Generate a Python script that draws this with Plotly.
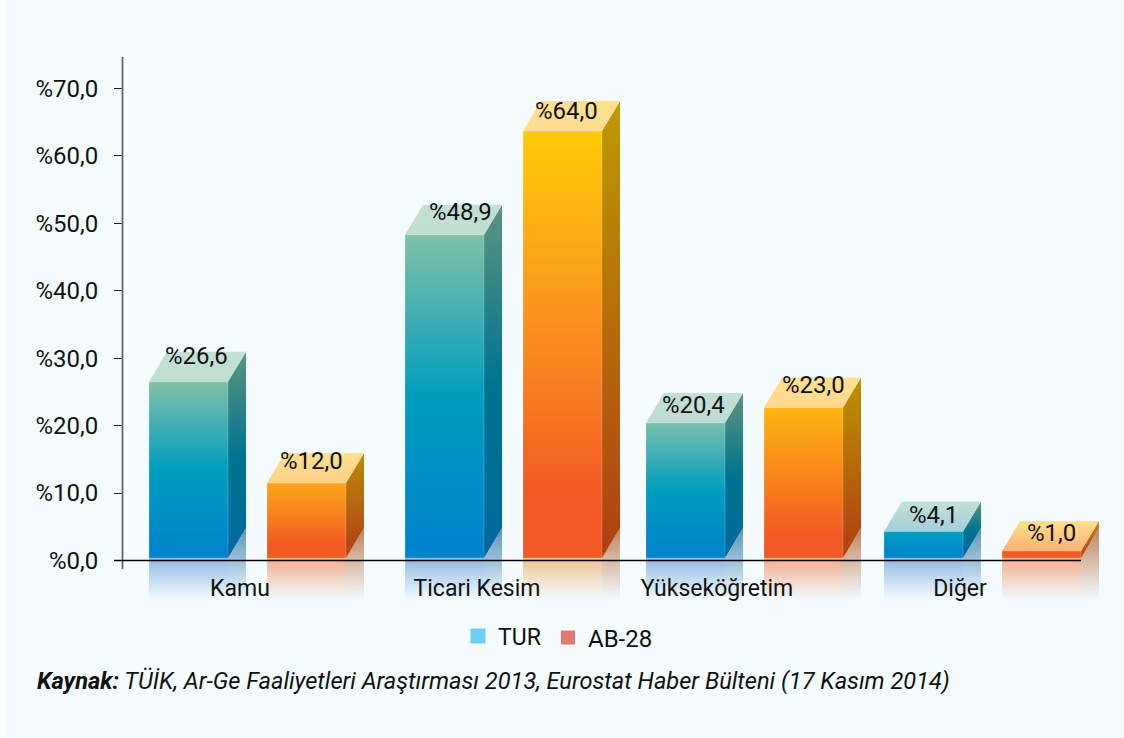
import plotly.graph_objects as go

# ---- data ----
categories = ["Kamu", "Ticari Kesim", "Yükseköğretim", "Diğer"]
series_names = ["TUR", "AB-28"]
# bar heights
tur_values = [26.5, 48.3, 20.4, 4.3]
ab_values = [11.5, 63.7, 22.7, 1.4]
# printed labels
tur_labels = ["%26,6", "%48,9", "%20,4", "%4,1"]
ab_labels = ["%12,0", "%64,0", "%23,0", "%1,0"]
y_ticks = [0, 10, 20, 30, 40, 50, 60, 70]
y_tick_labels = ["%0,0", "%10,0", "%20,0", "%30,0", "%40,0", "%50,0", "%60,0", "%70,0"]
source_bold = "Kaynak:"
source_rest = " TÜİK, Ar-Ge Faaliyetleri Araştırması 2013, Eurostat Haber Bülteni (17 Kasım 2014)"

# ---- geometry (x axis unit = 1 px, origin at the y axis) ----
W, H = 1124, 738
L, R, T, B = 123, 1110, 57, 605
AXIS_BOTTOM = 569
ZERO_END = 1081
PX = 6.743                       # px per y unit
Y0_PX = 560.5
BAR_W = 79
DX = 18
DY = 30 / PX
BASE = 2.5 / PX
REFL = -(600 - Y0_PX) / PX
tur_left = [26, 282, 523, 761]
ab_left = [144, 400, 641, 879]
cat_tick = [117, 354, 594, 837]
tur_lab = [(7.5, 25.5), (15.5, 23), (7.5, 18), (10, 17)]
ab_lab = [(5, 22), (4, 20), (9.5, 22), (10, 18)]

FONT = "Roboto"
FS = 24
BG = "#F4FCFF"
INK = "#111111"

TUR_FRONT = ["#0082CE", "#009DBE", "#80C1A8"]
TUR_SIDE = ["#00689F", "#00748F", "#5E9480"]
TUR_TOP_BACK = "#C3E0D4"
TUR_TOP_FRONT = ["#C0DDD2", "#C0DDD2", "#BEDCD4", "#A3CEDC"]
TUR_FRONT_TOP = ["#80C1A8", "#80C1A8", "#78BFAC", "#009DBE"]
AB_FRONT_TOP = ["#FBA61A", "#FFCB05", "#FFB612", "#F15A22"]
AB_SIDE_TOP = ["#BC8A0A", "#BC9A00", "#BD9200", "#C08A10"]
AB_TOP_BACK = "#FFE090"
AB_TOP_FRONT = ["#FDD08A", "#FFDD90", "#FFD88E", "#FFAF72"]
AB_REFL = ["240,140,90", "235,170,100", "240,140,90", "240,140,90"]


def poly(fig, xs, ys, stops, lo, hi, edge="rgba(255,255,255,0)"):
    fig.add_trace(go.Scatter(
        x=xs + xs[:1], y=ys + ys[:1], mode="lines", fill="toself",
        line=dict(width=0.8, color=edge),
        fillgradient=dict(type="vertical", colorscale=stops, start=lo, stop=hi),
        hoverinfo="skip", showlegend=False))


def fade(rgb, alpha):
    return [[0, f"rgba({rgb},0)"], [1, f"rgba({rgb},{alpha})"]]


def bar3d(fig, left, v, front, side, top_back, top_front, refl_front, refl_side):
    x0, x1, x2 = left, left + BAR_W, left + BAR_W + DX
    poly(fig, [x0, x1, x1, x0], [BASE, BASE, REFL, REFL], fade(*refl_front), REFL, BASE)
    poly(fig, [x1, x2, x2, x1], [BASE, BASE + DY, REFL, REFL], fade(*refl_side), REFL, BASE + DY)
    poly(fig, [x1, x2, x2, x1], [BASE, BASE + DY, v + DY, v], side, BASE, v + DY)
    poly(fig, [x0, x1, x2, x0 + DX], [v, v, v + DY, v + DY],
         [[0, top_front], [1, top_back]], v, v + DY)
    poly(fig, [x0, x1, x1, x0], [BASE, BASE, v, v], front, BASE, v, edge="rgba(255,255,255,0.25)")


fig = go.Figure()
ann = []
for i in range(len(categories)):
    v = tur_values[i]
    if v < 5:
        front = [[0, TUR_FRONT[0]], [1, TUR_FRONT[1]]]
    else:
        front = [[0, TUR_FRONT[0]], [0.5, TUR_FRONT[1]], [1, TUR_FRONT_TOP[i]]]
    side = [[0, TUR_SIDE[0]], [0.5, TUR_SIDE[1]], [1, TUR_SIDE[2]]]
    bar3d(fig, tur_left[i], v, front, side, TUR_TOP_BACK, TUR_TOP_FRONT[i],
          ("90,150,210", 0.65), ("50,120,170", 0.8))
    v2 = ab_values[i]
    if v2 > 40:
        fa = [[0, "#F15A22"], [0.15, "#F15A22"], [0.6, "#FA981E"], [1, AB_FRONT_TOP[i]]]
    else:
        fa = [[0, "#F15A22"], [0.15, "#F15A22"], [1, AB_FRONT_TOP[i]]]
    sa = [[0, "#B03E14"], [1, AB_SIDE_TOP[i]]]
    bar3d(fig, ab_left[i], v2, fa, sa, AB_TOP_BACK, AB_TOP_FRONT[i],
          (AB_REFL[i], 0.7), ("180,100,50", 0.8))
    for left, val, txt, off in ((tur_left[i], v, tur_labels[i], tur_lab[i]),
                                (ab_left[i], v2, ab_labels[i], ab_lab[i])):
        ann.append(dict(x=left + BAR_W / 2 + off[0], y=val, yshift=off[1], xref="x", yref="y",
                        text=txt, showarrow=False,
                        font=dict(family=FONT, size=FS, color=INK)))

# legend entries
fig.add_trace(go.Scatter(x=[None], y=[None], mode="markers", name=series_names[0], legend="legend",
                         marker=dict(symbol="square", size=15, color="#6DCFF6")))
fig.add_trace(go.Scatter(x=[None], y=[None], mode="markers", name=series_names[1], legend="legend2",
                         marker=dict(symbol="square", size=14, color="#E2786F")))

PW, PH = R - L, B - T
ann.append(dict(xref="paper", yref="paper", x=(35 - L) / PW, y=(B - 681) / PH,
                xanchor="left", yanchor="middle", showarrow=False, align="left",
                text=f"<b><i>{source_bold}</i></b><i>{source_rest}</i>",
                font=dict(family=FONT, size=23.6, color=INK)))


def one_legend(px, py, size):
    return dict(orientation="h", x=(px - L) / PW, y=(B - py) / PH, xanchor="left", yanchor="middle",
                bgcolor="rgba(0,0,0,0)", font=dict(family=FONT, size=size, color=INK))


fig.update_layout(
    width=W, height=H, autosize=False,
    margin=dict(l=L, r=W - R, t=T, b=H - B, pad=0),
    paper_bgcolor="#FFFFFF", plot_bgcolor="rgba(0,0,0,0)",
    font=dict(family=FONT, size=FS, color=INK),
    xaxis=dict(range=[0, PW], tickmode="array", tickvals=cat_tick, ticktext=categories,
               anchor="free", position=(B - AXIS_BOTTOM) / PH,
               showgrid=False, zeroline=False, showline=False, ticks="",
               ticklabelstandoff=3, tickfont=dict(family=FONT, size=23, color=INK)),
    yaxis=dict(range=[(Y0_PX - B) / PX, (Y0_PX - T) / PX], tickmode="array", tickvals=y_ticks,
               ticktext=y_tick_labels, showgrid=False, zeroline=False, showline=False,
               ticks="outside", ticklen=8, tickwidth=1,
               tickcolor="#222222", ticklabelstandoff=11,
               tickfont=dict(family=FONT, size=FS, color=INK)),
    showlegend=True,
    legend=one_legend(458, 636, 23),
    legend2=one_legend(548, 638, 24),
    annotations=ann,
    shapes=[
        dict(type="rect", layer="below", xref="paper", yref="paper", x0=(6 - L) / PW, x1=(W - L) / PW,
             y0=(B - H) / PH, y1=B / PH, line=dict(width=0), fillcolor=BG),
        dict(type="line", layer="above", xref="paper", yref="y", x0=-0.5 / PW, x1=-0.5 / PW,
             y0=(Y0_PX - AXIS_BOTTOM) / PX, y1=(Y0_PX - T) / PX, line=dict(color="#666666", width=1.8)),
        dict(type="line", layer="above", xref="paper", yref="y", x0=-9 / PW, x1=(ZERO_END - L) / PW,
             y0=0, y1=0, line=dict(color="#000000", width=1.3)),
    ],
)
fig.write_html("out.html", config={"displayModeBar": False},
               post_script="document.body.style.margin='0';document.body.style.overflow='hidden';")
